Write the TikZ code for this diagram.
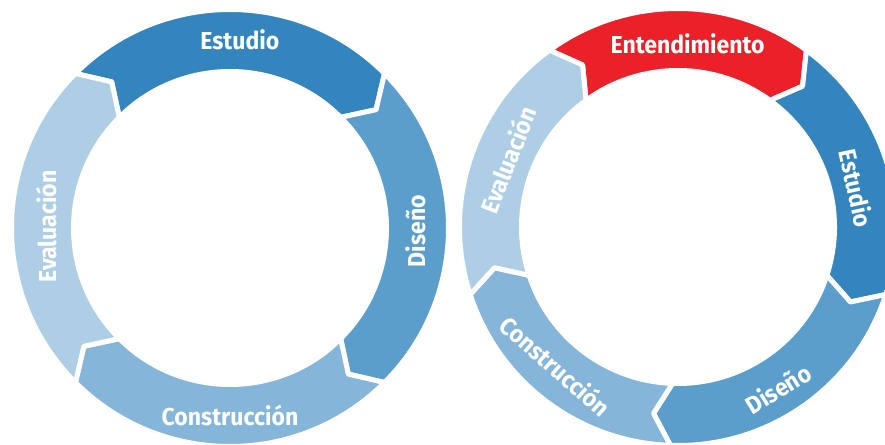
\documentclass[tikz,border=0pt]{standalone}
\usepackage{fontspec}
\newfontfamily\lblfont[FakeStretch=0.94]{Fira Sans}
\usepackage{tikz}
\usetikzlibrary{calc}
\definecolor{estudio}{RGB}{52,133,190}
\definecolor{diseno}{RGB}{91,158,203}
\definecolor{construccion}{RGB}{133,181,216}
\definecolor{evaluacion}{RGB}{174,206,229}
\definecolor{entend}{RGB}{236,32,41}
\tikzset{seg/.style={draw=white, line width=5pt, line join=round}}
\tikzset{lbl/.style={text=white, inner sep=0pt, font=\lblfont\bfseries\fontsize{24.5}{24.5}\selectfont}}
\newcommand{\ringpart}[5]{
	\filldraw[seg, fill=#5] ($(#1)+(#2:218.5)$) arc[start angle=#2, end angle=#3, radius=218.5]
		-- ($(#1)+({#3-#4}:188)$) -- ($(#1)+(#3:156.5)$)
		arc[start angle=#3, end angle=#2, radius=156.5]
		-- ($(#1)+({#2-#4}:188)$) -- cycle;
}

\begin{document}
\begin{tikzpicture}[x=1pt, y=1pt]

	\useasboundingbox (0,0) rectangle (885,444);

	\coordinate (L) at (230,216);
	\coordinate (R) at (678,217);

	\ringpart{L}{135}{45}{6}{estudio}
	\ringpart{L}{45}{-45}{6}{diseno}
	\ringpart{L}{-45}{-135}{6}{construccion}
	\ringpart{L}{-135}{-225}{6}{evaluacion}

	\ringpart{R}{126}{54}{5.5}{entend}
	\ringpart{R}{54}{-18}{5.5}{estudio}
	\ringpart{R}{-18}{-92}{5.5}{diseno}
	\ringpart{R}{-92}{-162}{5.5}{construccion}
	\ringpart{R}{-162}{-234}{5.5}{evaluacion}

	\node[lbl] (lestudio) at ($(L)+(87:188)$) {Estudio};

	\node[lbl, rotate=90] (ldiseno) at ($(L)+(-1:186)$) {Diseño};

	\node[lbl] (lconstruccion) at ($(L)+(-90:187)$) {Construcción};

	\node[lbl, rotate=90] (levaluacion) at ($(L)+(179.5:184)$) {Evaluación};

	\node[lbl] (rentend) at ($(R)+(87:183)$) {Entendimiento};

	\node[lbl, rotate=-77.7] (restudio) at ($(R)+(12.3:183)$) {Estudio};

	\node[lbl, rotate=31.7] (rdiseno) at ($(R)+(-58.3:190)$) {Diseño};

	\node[lbl, rotate=-41.3] (rconstruccion) at ($(R)+(-131.3:185)$) {Construcción};

	\node[lbl, rotate=68.5] (revaluacion) at ($(R)+(158.5:183)$) {Evaluación};
\end{tikzpicture}
\end{document}
